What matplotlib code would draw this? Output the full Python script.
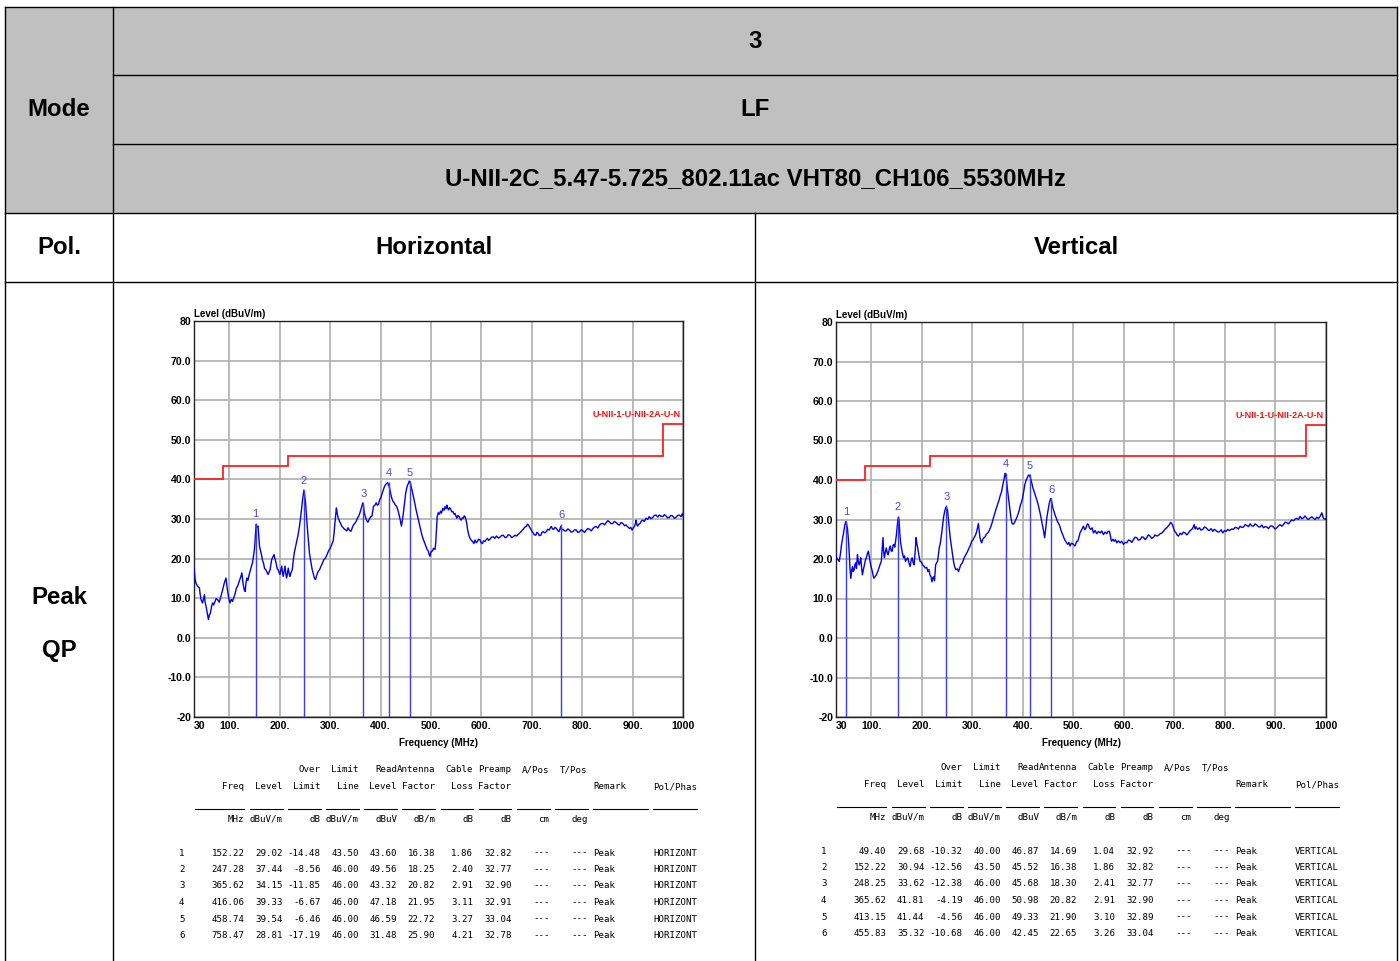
import matplotlib
matplotlib.use("Agg")
import matplotlib.pyplot as plt
import numpy as np

# ---------------- data ----------------
freq_ticks = [30, 100, 200, 300, 400, 500, 600, 700, 800, 900, 1000]
freq_tick_labels = ["30", "100.", "200.", "300.", "400.", "500.", "600.", "700.", "800.", "900.", "1000"]
level_ticks = [80, 70, 60, 50, 40, 30, 20, 10, 0, -10, -20]
level_tick_labels = ["80", "70.0", "60.0", "50.0", "40.0", "30.0", "20.0", "10.0", "0.0", "-10.0", "-20"]

limit_edges = [30, 88, 216, 960, 1000]
limit_values = [40.0, 43.5, 46.0, 54.0]
limit_name = "U-NII-1-U-NII-2A-U-N"

# Horizontal trace: (MHz, dBuV/m)
h_trace = [
    (30, 17.8), (32, 15.0), (34, 13.8), (37, 13.0), (40.8, 12.6), (42, 11.2), (44, 9.6), (47, 8.8),
    (49, 10.0), (50.7, 10.9), (52, 9.0), (54, 7.9), (56, 6.5), (58.6, 4.6), (60.5, 5.8), (62.5, 6.2),
    (65, 8.0), (67, 8.8), (69, 8.3), (71.7, 9.2), (74, 9.9), (77, 9.6), (80, 9.0), (83.5, 10.5),
    (87, 12.2), (90, 13.8), (93.4, 15.1), (95, 13.5), (96.7, 11.7), (99, 10.0), (101.3, 8.8),
    (104, 9.7), (106.6, 9.2), (109, 10.2), (111, 10.9), (114, 12.5), (116.4, 13.0), (119, 14.0),
    (121, 14.7), (123, 15.5), (125, 16.4), (127, 14.0), (128.3, 13.0), (130, 12.0), (131.6, 11.7),
    (133, 13.8), (135, 15.1), (137, 14.5), (139.5, 16.0), (142, 17.2), (144, 18.1), (146, 19.0),
    (148, 20.6), (150, 22.5), (151.3, 24.8), (152.5, 27.0), (153.3, 28.6), (155, 28.0), (157, 28.2),
    (158.5, 25.5), (160, 23.1), (162, 22.0), (163.8, 21.0), (166, 19.5), (167.8, 18.9), (170, 17.5),
    (172.4, 17.2), (175, 16.5), (177, 16.0), (179, 16.6), (181, 17.2), (184, 19.7), (186, 20.3),
    (188.8, 21.0), (190.5, 20.0), (192.8, 18.9), (195, 17.5), (196.7, 17.2), (198.5, 16.6),
    (200.6, 16.0), (202, 17.0), (204, 18.1), (205.5, 16.5), (207, 15.5), (209, 17.0), (210.5, 18.1),
    (212, 16.3), (213.8, 15.1), (215.5, 16.5), (217, 17.6), (219, 16.0), (220.4, 15.5), (222.5, 16.5),
    (225, 17.2), (227, 19.7), (229, 21.5), (231.6, 23.1), (234, 24.5), (236, 25.7), (239, 28.0),
    (241.4, 30.3), (243.5, 32.8), (245.4, 34.9), (247, 36.5), (248, 37.3), (249.5, 36.0),
    (251.3, 34.1), (253, 31.0), (254.6, 28.2), (257, 24.5), (259, 21.4), (262, 19.0), (264.5, 17.2),
    (267, 16.0), (269, 15.0), (271, 14.7), (273.5, 15.8), (276.3, 16.8), (279, 17.2), (282, 18.1),
    (285, 19.0), (287.5, 19.7), (291, 20.2), (294, 21.0), (297, 22.0), (300.6, 22.7), (303, 23.5),
    (306, 24.4), (307.5, 26.0), (309, 28.2), (311, 31.0), (312.5, 32.8), (314, 31.5), (315.8, 30.3),
    (318, 29.6), (320.4, 29.0), (323, 28.2), (325.7, 27.8), (328, 27.5), (330, 27.3), (333, 27.0),
    (335.5, 27.8), (338, 27.2), (341.4, 26.9), (344, 27.8), (346.7, 28.6), (349, 28.9), (352, 29.5),
    (354, 30.2), (356.6, 30.7), (359, 31.5), (361, 32.4), (363, 33.3), (365, 34.1), (366.5, 33.0),
    (367.8, 31.6), (370, 30.5), (373, 29.5), (375, 29.2), (377.6, 29.9), (380, 30.5), (383, 30.7),
    (384.5, 32.0), (386, 33.2), (389, 33.5), (391.4, 34.1), (393.5, 33.5), (396, 33.7), (398, 34.8),
    (400.6, 35.4), (402.5, 36.2), (404.6, 37.0), (407, 37.9), (409, 38.5), (411.5, 38.9),
    (414, 39.2), (416, 38.6), (417.8, 37.9), (420, 36.5), (422, 35.4), (424.5, 34.5), (427, 34.1),
    (429.5, 33.5), (432, 33.2), (435, 32.0), (437.5, 30.7), (439.5, 29.5), (441.4, 28.2),
    (443.5, 29.8), (445.4, 31.6), (448, 34.5), (450, 36.6), (452, 37.8), (454, 38.7), (455.5, 39.0),
    (457, 39.6), (459, 39.2), (460.5, 38.3), (463, 37.0), (465, 35.8), (468, 34.0), (470.4, 32.4),
    (473, 31.0), (475, 29.9), (477.5, 28.5), (479.6, 27.3), (482, 26.0), (485, 24.8), (487.5, 24.0),
    (490, 23.1), (492.5, 22.3), (494.7, 21.9), (496.5, 21.0), (498, 20.6), (500.5, 21.8),
    (503, 21.9), (505, 22.6), (508, 22.3), (509.5, 24.0), (511, 27.5), (512.5, 30.6), (514.5, 31.6),
    (517, 31.2), (519, 32.0), (521, 31.5), (523.6, 32.7), (526, 32.2), (528, 33.1), (530, 32.6),
    (531.5, 33.5), (533, 32.8), (534.8, 32.3), (537, 32.9), (539.4, 32.4), (541.5, 31.8),
    (543.4, 31.9), (546, 31.2), (548, 31.4), (550, 30.6), (551.5, 30.2), (553.5, 30.9), (556, 30.6),
    (558, 30.0), (560, 29.7), (562, 30.3), (564.4, 30.2), (566, 30.8), (567.7, 30.6), (569.5, 29.8),
    (571, 28.9), (572.5, 27.5), (574.3, 26.4), (576, 25.6), (577.6, 25.1), (580, 24.6), (583, 24.3),
    (585, 23.8), (587.5, 24.7), (590, 24.0), (592, 24.3), (594.5, 24.9), (597.4, 24.7),
    (599.5, 24.0), (602, 23.8), (604.5, 24.5), (607, 24.3), (609.5, 24.8), (612, 25.1),
    (614.5, 24.6), (617, 24.9), (620, 25.4), (623.7, 25.5), (626.5, 25.1), (630, 25.7),
    (633.5, 25.2), (637, 25.4), (640, 25.8), (643.5, 25.9), (647, 25.3), (650, 25.4), (653, 26.0),
    (656.7, 25.9), (660, 25.3), (663, 25.5), (666.5, 25.9), (670, 25.7), (673, 26.1), (676.4, 26.5),
    (680, 27.0), (683, 27.4), (686, 27.9), (689.6, 28.2), (691.5, 28.7), (693.5, 28.5),
    (695.5, 28.0), (697.5, 27.6), (700, 27.0), (702.8, 26.5), (705, 26.0), (708, 25.9), (710, 26.6),
    (712.6, 26.4), (715, 25.8), (718, 25.9), (720, 26.6), (722.5, 26.8), (725.5, 26.5), (729, 26.8),
    (731.5, 27.4), (734.4, 27.2), (736.5, 27.7), (739, 28.1), (741, 27.5), (743.6, 27.4),
    (746, 27.9), (749, 27.6), (751.5, 27.1), (754, 26.8), (756, 27.5), (757.4, 28.1), (759.5, 27.3),
    (762, 27.4), (765, 27.0), (768.6, 27.0), (771.5, 27.5), (775, 27.2), (778, 26.7), (781.8, 26.8),
    (785, 27.3), (788.4, 27.2), (791.5, 26.6), (795, 26.8), (798, 27.3), (801.6, 27.0),
    (804.5, 26.6), (808, 27.2), (811, 27.6), (814.8, 27.4), (818, 27.0), (821.3, 27.6),
    (824.5, 28.0), (828, 28.1), (831, 27.7), (834.5, 28.5), (837.5, 28.8), (841, 28.9),
    (844.5, 28.5), (847.7, 29.1), (851, 29.6), (854, 29.3), (857.5, 28.8), (861, 28.9), (864, 29.4),
    (867.5, 29.1), (871, 28.6), (874, 28.5), (877, 29.1), (880.6, 28.9), (884, 28.3), (887, 28.5),
    (890.5, 28.0), (893.8, 27.6), (896.5, 27.9), (899, 27.2), (901.5, 27.8), (903.7, 28.1),
    (905.5, 28.8), (907, 29.7), (908.5, 28.6), (910, 28.2), (912.5, 28.7), (915, 28.9),
    (917.5, 29.5), (920, 29.7), (923.5, 29.4), (926.7, 30.2), (930, 29.9), (933, 30.6),
    (936.5, 30.1), (940, 30.4), (943, 30.9), (946.5, 31.0), (950, 30.5), (953, 31.0), (956.5, 30.7),
    (959.7, 30.6), (963, 31.1), (966, 30.8), (969.5, 30.3), (972.8, 30.4), (976, 30.9),
    (979.4, 30.8), (983, 30.2), (986, 30.4), (989.5, 30.9), (992.6, 31.0), (996, 30.6), (999, 31.4),
    (1000, 30.8),
]

# Vertical trace: (MHz, dBuV/m)
v_trace = [
    (30, 21.0), (31, 20.3), (34, 19.8), (36.4, 19.4), (39, 21.5), (41, 23.7), (43.5, 25.5),
    (45.6, 27.1), (47.5, 28.6), (49.5, 29.5), (51, 28.8), (52.8, 27.6), (54.5, 25.0), (56, 22.0),
    (57.5, 18.0), (59.3, 15.1), (61, 17.0), (62.6, 18.1), (64.3, 16.8), (66, 17.3), (67.5, 18.6),
    (69, 19.0), (70.5, 17.6), (72.5, 21.1), (74, 19.5), (75.7, 18.5), (77.5, 19.2), (79, 20.3),
    (80.5, 18.0), (82.3, 16.0), (84, 17.2), (85.6, 18.1), (87.8, 19.5), (90, 20.3), (92, 21.3),
    (94, 22.0), (96, 20.5), (98, 19.0), (100, 17.8), (102, 16.8), (103.5, 15.8), (105, 15.1),
    (107.5, 15.6), (110, 16.0), (112.5, 16.8), (115, 17.7), (117.5, 18.7), (119.7, 19.4),
    (121.5, 22.5), (123, 25.4), (124.3, 22.0), (125.6, 20.3), (127.5, 21.6), (129.5, 22.8),
    (131.5, 21.5), (133.4, 21.1), (135.5, 22.5), (137.4, 23.3), (139.5, 22.0), (141.3, 22.0),
    (143, 23.5), (144.6, 23.7), (146.3, 23.0), (147.9, 24.5), (149.5, 26.0), (151.1, 28.0),
    (152.5, 30.0), (153.8, 30.6), (155, 29.5), (156.4, 26.3), (158, 24.0), (159.7, 22.8),
    (161.5, 21.5), (163.6, 20.3), (165.5, 20.8), (167.5, 19.4), (170, 20.0), (172, 20.3),
    (174.5, 19.0), (176.7, 18.1), (178.5, 19.5), (180.7, 20.3), (182.5, 19.2), (184.6, 18.5),
    (186.5, 21.5), (188.5, 25.4), (190, 24.0), (191.8, 22.8), (194, 21.0), (196.4, 19.4),
    (199, 19.2), (201.6, 18.5), (204, 18.2), (206.9, 17.7), (209.5, 17.9), (212, 16.8), (214, 17.3),
    (216, 16.0), (218, 15.5), (220, 14.2), (221.5, 15.2), (223.3, 15.5), (225, 14.5), (227.2, 18.5),
    (229, 19.0), (231, 19.4), (232.5, 21.0), (234.4, 22.8), (236.5, 24.0), (239, 26.3), (241, 28.5),
    (243, 30.6), (245, 32.0), (247.5, 33.1), (249, 33.0), (250.8, 32.3), (252.5, 30.0), (254, 28.0),
    (256, 25.5), (258, 23.7), (260.5, 21.5), (262.6, 19.4), (265, 18.0), (267.2, 17.3), (270, 17.5),
    (272.5, 16.8), (275, 17.8), (277, 18.5), (280, 19.0), (282.3, 19.8), (284.5, 20.5), (287, 21.1),
    (290, 21.8), (293.4, 22.8), (296, 23.5), (298.7, 24.5), (301, 24.8), (303.3, 25.4), (306, 26.0),
    (307.9, 26.7), (310, 27.8), (311.8, 29.0), (313.5, 27.0), (315, 25.4), (316.8, 24.5),
    (318.4, 24.1), (320.5, 25.0), (323, 25.4), (325.5, 25.7), (327.5, 26.3), (330, 26.5),
    (332.8, 27.1), (336, 28.0), (339.3, 29.3), (342.5, 30.8), (346, 32.3), (349, 33.5),
    (352.5, 34.8), (355, 36.0), (357.7, 37.0), (359.5, 38.3), (361.6, 39.6), (363.5, 40.8),
    (365, 41.7), (366.3, 41.0), (367.5, 40.0), (369.5, 37.5), (372, 34.8), (374.5, 32.3),
    (376.7, 30.1), (378.5, 29.0), (380.6, 28.8), (382.8, 29.1), (385, 29.7), (388, 30.5),
    (390.5, 31.4), (393, 32.5), (395, 33.6), (397.5, 34.5), (399.7, 35.7), (401.5, 37.0),
    (403.6, 38.7), (406, 39.8), (408, 40.4), (410, 41.0), (412, 41.3), (413.8, 40.9), (415.4, 40.4),
    (417.5, 39.2), (420, 37.9), (422.5, 37.0), (424.6, 36.1), (427, 35.2), (429.8, 34.0),
    (432, 32.8), (434.4, 31.4), (436.5, 30.0), (439, 28.4), (441, 27.0), (443, 25.4), (445, 27.5),
    (447.5, 30.6), (450, 32.5), (452, 34.0), (453.8, 34.8), (455.4, 35.3), (457, 34.5), (459, 33.1),
    (461.5, 32.0), (464, 31.0), (466.5, 30.2), (469, 29.3), (471.5, 28.8), (473.8, 28.0),
    (476, 27.0), (478.4, 26.3), (481, 25.4), (483.6, 24.7), (486, 24.2), (488.9, 23.7), (491, 24.2),
    (493.4, 23.3), (496, 24.0), (498, 23.9), (500, 23.7), (503, 23.3), (506.6, 24.5), (508.5, 24.5),
    (511, 25.5), (513, 26.6), (516.5, 27.5), (519.8, 28.3), (522.5, 27.4), (525, 27.9),
    (527.5, 28.9), (529.7, 28.7), (532, 27.8), (534.3, 27.5), (537, 27.9), (539.6, 26.6),
    (543, 27.2), (546, 26.4), (549.5, 27.0), (552.8, 26.6), (556, 27.1), (559.4, 26.2),
    (562.5, 26.8), (566, 26.4), (568.5, 27.0), (571.3, 27.0), (573, 26.0), (575.2, 24.5), (578, 25.0),
    (580.5, 24.5), (583, 24.9), (585.8, 24.1), (589, 24.6), (592.4, 24.1), (595.5, 24.5), (599, 23.7),
    (602, 24.2), (605.6, 24.1), (609, 24.8), (612.2, 24.7), (615.5, 24.2), (618.8, 24.9), (622, 25.5),
    (625.4, 25.4), (628.5, 24.8), (632, 24.9), (635.5, 25.6), (638.6, 25.5), (642, 24.9),
    (645.2, 25.4), (648.5, 26.1), (651.8, 25.8), (655, 25.2), (658.4, 25.5), (661.5, 26.1),
    (665, 25.8), (668.5, 26.0), (671.6, 26.4), (675, 26.6), (678.2, 27.0), (681.5, 27.6),
    (684.8, 27.9), (687.5, 28.3), (690, 28.7), (692.5, 29.3), (694.7, 28.9), (696.5, 28.5),
    (698, 27.9), (700.5, 27.0), (703.3, 26.6), (705.5, 26.0), (708, 25.8), (711, 26.5),
    (714.5, 26.2), (717.5, 26.8), (721, 26.6), (724.5, 26.1), (727.7, 26.6), (731, 27.2),
    (734.3, 27.5), (736.5, 27.9), (739, 28.7), (741, 27.6), (743, 28.1), (746, 27.5), (749.5, 27.9),
    (752.5, 27.3), (756, 27.5), (759.5, 28.1), (762.7, 27.9), (766, 27.4), (769.3, 27.2),
    (772.5, 27.7), (776, 27.0), (779, 27.5), (782.5, 27.2), (786, 26.8), (789, 26.9), (792.5, 27.4),
    (795.7, 26.6), (799, 27.2), (802.3, 27.0), (805.5, 27.5), (809, 27.2), (813, 27.6),
    (816.8, 27.5), (820, 28.0), (823.4, 27.9), (826.5, 27.6), (830, 28.3), (833, 28.0),
    (836.6, 28.1), (840, 28.7), (843.2, 28.5), (846.5, 28.2), (849.8, 28.9), (853, 28.4),
    (856.4, 28.3), (859.5, 28.9), (863, 28.6), (866, 28.2), (869.6, 28.1), (873, 28.6),
    (876.2, 27.9), (879.5, 28.2), (882.8, 28.1), (886, 27.7), (889.4, 28.3), (892.5, 28.4),
    (896, 28.1), (899, 27.6), (902.6, 27.9), (906, 28.4), (909, 28.7), (912.5, 28.3), (915.8, 28.7),
    (919, 29.3), (922.4, 29.2), (925.5, 28.9), (929, 29.4), (932, 29.9), (935.6, 29.7), (939, 30.1),
    (942.2, 30.3), (945.5, 30.0), (948.8, 30.8), (952, 30.2), (955.4, 30.4), (958.5, 30.9),
    (962, 30.3), (965, 30.0), (968.6, 30.4), (972, 30.7), (975, 30.3), (978.5, 30.0), (981.8, 30.6),
    (985, 30.2), (988.4, 30.8), (991.7, 31.7), (995, 30.3), (998.3, 30.0), (1000, 30.2),
]

# marker tables
h_mk_freq = [152.22, 247.28, 365.62, 416.06, 458.74, 758.47]
h_mk_level = [29.02, 37.44, 34.15, 39.33, 39.54, 28.81]
h_mk_over = [-14.48, -8.56, -11.85, -6.67, -6.46, -17.19]
h_mk_limit = [43.50, 46.00, 46.00, 46.00, 46.00, 46.00]
h_mk_read = [43.60, 49.56, 43.32, 47.18, 46.59, 31.48]
h_mk_ant = [16.38, 18.25, 20.82, 21.95, 22.72, 25.90]
h_mk_cable = [1.86, 2.40, 2.91, 3.11, 3.27, 4.21]
h_mk_preamp = [32.82, 32.77, 32.90, 32.91, 33.04, 32.78]

v_mk_freq = [49.40, 152.22, 248.25, 365.62, 413.15, 455.83]
v_mk_level = [29.68, 30.94, 33.62, 41.81, 41.44, 35.32]
v_mk_over = [-10.32, -12.56, -12.38, -4.19, -4.56, -10.68]
v_mk_limit = [40.00, 43.50, 46.00, 46.00, 46.00, 46.00]
v_mk_read = [46.87, 45.52, 45.68, 50.98, 49.33, 42.45]
v_mk_ant = [14.69, 16.38, 18.30, 20.82, 21.90, 22.65]
v_mk_cable = [1.04, 1.86, 2.41, 2.91, 3.10, 3.26]
v_mk_preamp = [32.92, 32.82, 32.77, 32.90, 32.89, 33.04]

# ---------------- figure ----------------
W, H = 1400, 961
fig = plt.figure(figsize=(W / 100, H / 100), dpi=100)
bg = fig.add_axes([0, 0, 1, 1])
bg.set_xlim(0, W)
bg.set_ylim(H, 0)
bg.axis("off")

GRAY = "#c0c0c0"
bg.add_patch(plt.Rectangle((5, 7), 1392, 206, facecolor=GRAY, edgecolor="none", zorder=0))
lk = dict(color="black", lw=1.0, zorder=2)
bg.plot([5, 1397], [7, 7], **lk)
bg.plot([5, 5], [7, 961], **lk)
bg.plot([1397, 1397], [7, 961], **lk)
bg.plot([113, 113], [7, 961], **lk)
bg.plot([113, 1397], [75, 75], **lk)
bg.plot([113, 1397], [144, 144], **lk)
bg.plot([5, 1397], [213, 213], **lk)
bg.plot([5, 1397], [282, 282], **lk)
bg.plot([755, 755], [213, 961], **lk)

hdr = dict(family=["Liberation Sans", "DejaVu Sans"], weight="bold", fontsize=17.3,
           ha="center", va="center", color="black")
bg.text(755, 41, "3", **hdr)
bg.text(755, 110, "LF", **hdr)
bg.text(755, 179, "U-NII-2C_5.47-5.725_802.11ac VHT80_CH106_5530MHz", **hdr)
bg.text(59, 110, "Mode", **hdr)
bg.text(59, 248, "Pol.", **hdr)
bg.text(434, 248, "Horizontal", **hdr)
bg.text(1076, 248, "Vertical", **hdr)
bg.text(59, 597, "Peak", **hdr)
bg.text(59, 650, "QP", **hdr)

NARROW = ["Liberation Sans Narrow", "Liberation Sans", "DejaVu Sans"]


def rect(l, t, r, b):
    return [l / W, 1 - b / H, (r - l) / W, (b - t) / H]


def draw_plot(box, trace, mf, ml):
    tf, tl = np.array(trace).T
    ax = fig.add_axes(rect(*box))
    ax.set_xlim(30, 1000)
    ax.set_ylim(-20, 80)
    ax.set_facecolor("white")
    for s in ax.spines.values():
        s.set_color("#202020")
        s.set_linewidth(1.0)
    ax.set_xticks(freq_ticks)
    ax.set_yticks(level_ticks)
    ax.grid(True, color="#b4b4b4", lw=1.3)
    ax.set_axisbelow(True)
    ax.tick_params(length=0)
    ax.tick_params(axis="x", pad=3)
    ax.tick_params(axis="y", pad=2)
    ax.set_xticklabels(freq_tick_labels, family=NARROW, weight="bold", fontsize=7.6)
    ax.set_yticklabels(level_tick_labels, family=NARROW, weight="bold", fontsize=7.6)
    xl = ax.get_xticklabels()
    xl[0].set_ha("left")
    ax.stairs(limit_values, limit_edges, color="#ff2020", lw=1.3, baseline=None, zorder=3)
    ax.text(0.995, 56.3, limit_name, transform=ax.get_yaxis_transform(),
            ha="right", va="center", color="#ff1010", family=NARROW, weight="bold", fontsize=6.6)
    ax.plot(tf, tl, color="#0000e8", lw=1.0, zorder=4)
    for i, (f, l) in enumerate(zip(mf, ml)):
        ax.vlines(f, -20, l, color="#3a3aff", lw=1.0, zorder=4)
        ax.text(f, l + 0.9, str(i + 1), ha="center", va="bottom", color="#4a4ae0",
                family=NARROW, fontsize=8, zorder=5)
    ax.text(0.0, 1.006, "Level (dBuV/m)", transform=ax.transAxes, ha="left", va="bottom",
            family=NARROW, weight="bold", fontsize=7.0)
    ax.set_xlabel("Frequency (MHz)", family=NARROW, weight="bold", fontsize=7.0, labelpad=5)
    return ax


draw_plot((194, 321, 683, 717), h_trace, h_mk_freq, h_mk_level)
draw_plot((836, 322, 1326, 717), v_trace, v_mk_freq, v_mk_level)

# ---------------- marker tables ----------------
MONO = dict(family=["DejaVu Sans Mono"], fontsize=6.55, color="black")
CW = 5.45
ENDS = [12, 19, 26, 33, 40, 47, 54, 61, 68, 75]


def draw_table(x0, y0, f, lv, ov, li, rd, an, ca, pr, pol):
    def X(col):
        return x0 + col * CW
    h1 = {26: "Over", 33: "Limit", 40: "Read", 47: "Antenna", 54: "Cable", 61: "Preamp",
          68: "A/Pos", 75: "T/Pos"}
    h2 = {12: "Freq", 19: "Level", 26: "Limit", 33: "Line", 40: "Level", 47: "Factor",
          54: "Loss", 61: "Factor"}
    units = {12: "MHz", 19: "dBuV/m", 26: "dB", 33: "dBuV/m", 40: "dBuV", 47: "dB/m",
             54: "dB", 61: "dB", 68: "cm", 75: "deg"}
    for c, t in h1.items():
        bg.text(X(c), y0, t, ha="right", va="center", **MONO)
    for c, t in h2.items():
        bg.text(X(c), y0 + 16.5, t, ha="right", va="center", **MONO)
    bg.text(X(76), y0 + 16.5, "Remark", ha="left", va="center", **MONO)
    bg.text(X(87), y0 + 16.5, "Pol/Phas", ha="left", va="center", **MONO)
    uy = y0 + 38.5
    segs = [(3, 12)] + [(e - 6, e) for e in ENDS[1:]] + [(76, 86), (87, 95)]
    for a, b in segs:
        bg.plot([X(a), X(b)], [uy, uy], color="black", lw=0.8)
    for c, t in units.items():
        bg.text(X(c), y0 + 49.5, t, ha="right", va="center", **MONO)
    for i in range(len(f)):
        y = y0 + 83 + i * 16.5
        bg.text(X(0), y, str(i + 1), ha="left", va="center", **MONO)
        vals = [f[i], lv[i], ov[i], li[i], rd[i], an[i], ca[i], pr[i]]
        for c, v in zip(ENDS[:8], vals):
            bg.text(X(c), y, f"{v:.2f}", ha="right", va="center", **MONO)
        bg.text(X(68), y, "---", ha="right", va="center", **MONO)
        bg.text(X(75), y, "---", ha="right", va="center", **MONO)
        bg.text(X(76), y, "Peak", ha="left", va="center", **MONO)
        bg.text(X(87), y, pol, ha="left", va="center", **MONO)


draw_table(179, 770, h_mk_freq, h_mk_level, h_mk_over, h_mk_limit, h_mk_read, h_mk_ant,
           h_mk_cable, h_mk_preamp, "HORIZONT")
draw_table(821, 768, v_mk_freq, v_mk_level, v_mk_over, v_mk_limit, v_mk_read, v_mk_ant,
           v_mk_cable, v_mk_preamp, "VERTICAL")

fig.savefig("out.png", dpi=100)
